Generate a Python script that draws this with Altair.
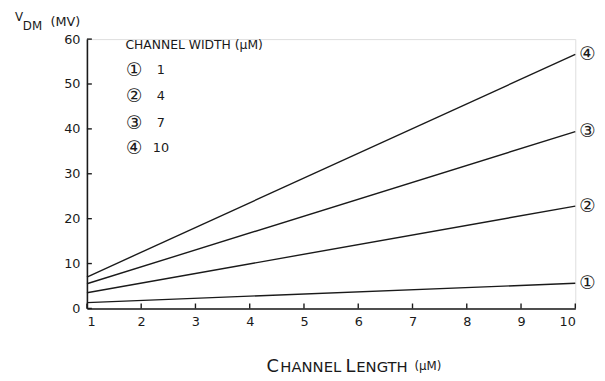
import altair as alt
import pandas as pd

# Data
lengths = [1, 10]
series_ids = ["1", "2", "3", "4"]
circled = ["\u2460", "\u2461", "\u2462", "\u2463"]
widths = ["1", "4", "7", "10"]
v_start = [1.3, 3.5, 5.5, 7.0]
v_end = [5.6, 22.8, 39.4, 56.6]

x_ticks = [1, 2, 3, 4, 5, 6, 7, 8, 9, 10]
y_ticks = [0, 10, 20, 30, 40, 50, 60]

rows = []
for sid, a, b in zip(series_ids, v_start, v_end):
    rows.append({"series": sid, "L": lengths[0], "V": a})
    rows.append({"series": sid, "L": lengths[1], "V": b})
df = pd.DataFrame(rows)

end_df = pd.DataFrame({"series": series_ids, "lab": circled, "L": [lengths[1]] * 4, "V": v_end})

FONT = "DejaVu Sans"
INK = "#1a1a1a"
W, H = 495, 273

xs = alt.Scale(domain=[1, 10], nice=False, zero=False)
ys = alt.Scale(domain=[0, 60], nice=False)

lines = alt.Chart(df).mark_line(color=INK, strokeWidth=1.4).encode(
    x=alt.X("L:Q", scale=xs,
            axis=alt.Axis(values=x_ticks, format="d", title=None,
                          labelFont=FONT, labelFontSize=13, labelColor=INK,
                          ticks=False, domainColor=INK, domainWidth=1.6,
                          grid=False, labelPadding=7)),
    y=alt.Y("V:Q", scale=ys,
            axis=alt.Axis(values=y_ticks, title=None, labelFont=FONT, labelFontSize=13,
                          labelColor=INK, ticks=False, domainColor=INK,
                          domainWidth=1.6, grid=False, labelPadding=7)),
    detail="series:N",
)

# inward ticks
xt = alt.Chart(pd.DataFrame({"t": x_ticks})).mark_rule(color=INK, strokeWidth=1.4).encode(
    x=alt.X("t:Q", scale=xs), y=alt.value(H), y2=alt.value(H - 5))
yt = alt.Chart(pd.DataFrame({"t": y_ticks})).mark_rule(color=INK, strokeWidth=1.4).encode(
    y=alt.Y("t:Q", scale=ys), x=alt.value(0), x2=alt.value(5))

end_labels = alt.Chart(end_df).mark_text(font=FONT, fontSize=19, color=INK, align="left", dx=4).encode(
    x=alt.X("L:Q", scale=xs), y=alt.Y("V:Q", scale=ys), text="lab:N"
)

# Legend block (pixel positions inside plot area)
leg_df = pd.DataFrame({
    "c": circled,
    "w": widths,
    "py": [31, 58, 85, 110],
})
leg_c = alt.Chart(leg_df).mark_text(font=FONT, fontSize=19, color=INK, align="center").encode(
    x=alt.value(48), y=alt.Y("py:Q", scale=None), text="c:N"
)
leg_w = alt.Chart(leg_df).mark_text(font=FONT, fontSize=13, color=INK, align="center").encode(
    x=alt.value(75), y=alt.Y("py:Q", scale=None), text="w:N"
)
leg_head = alt.Chart(pd.DataFrame({"t": ["CHANNEL WIDTH (\u03bcM)"]})).mark_text(
    font=FONT, fontSize=12.5, color=INK, align="left").encode(
    x=alt.value(39), y=alt.value(6), text="t:N")

# Axis titles made of pieces (subscript / small caps)
ttl = pd.DataFrame({
    "t": ["V", "DM", "(MV)",
          "C", "HANNEL", "L", "ENGTH", "(\u03bcM)"],
    "px": [-73, -65, -37, 182, 196, 262, 273, 332],
    "py": [-18, -9, -13, 337, 337, 337, 337, 335],
    "fs": [12, 12, 13, 18, 15, 18, 15, 12],
})
titles = alt.Chart(ttl).mark_text(font=FONT, color=INK, align="left", baseline="alphabetic").encode(
    x=alt.X("px:Q", scale=None), y=alt.Y("py:Q", scale=None), text="t:N",
    size=alt.Size("fs:Q", scale=None, legend=None),
)

chart = alt.layer(lines, xt, yt, end_labels, leg_c, leg_w, leg_head, titles).properties(
    width=W, height=H,
    autosize=alt.AutoSizeParams(type="none"),
    padding={"left": 80, "top": 29, "right": 22, "bottom": 70},
).configure_view(stroke=None).configure(background="white")

chart.save("out.html", embed_options={"renderer": "svg", "actions": False})
